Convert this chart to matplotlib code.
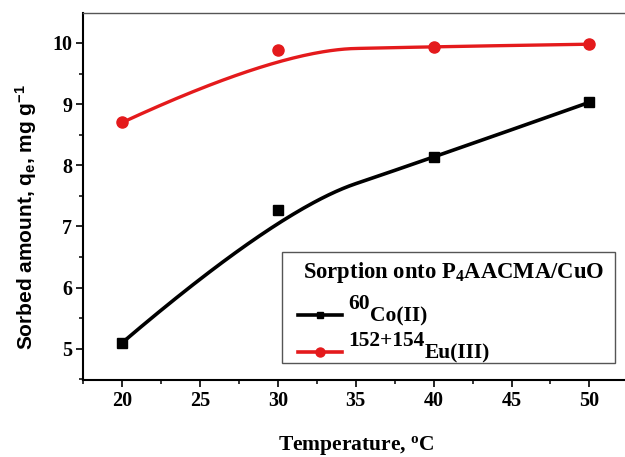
## Sorption vs temperature

import numpy as np
import matplotlib
matplotlib.use('Agg')
import matplotlib.pyplot as plt
from matplotlib.ticker import MultipleLocator
from matplotlib.lines import Line2D
from matplotlib.patches import Rectangle

temperature = [20, 30, 40, 50]
co_qe = [5.10, 7.27, 8.13, 9.03]
eu_qe = [8.70, 9.88, 9.94, 9.98]

legend_title = r'Sorption onto P$_4$AACMA/CuO'
co_iso, co_name = '60', 'Co(II)'
eu_iso, eu_name = '152+154', 'Eu(III)'

RED = '#e41a1c'

plt.rcParams['font.family'] = 'Liberation Serif'
plt.rcParams['font.weight'] = 'bold'
plt.rcParams['mathtext.fontset'] = 'custom'
plt.rcParams['mathtext.rm'] = 'Liberation Serif:bold'
plt.rcParams['mathtext.it'] = 'Liberation Serif:bold'
plt.rcParams['mathtext.bf'] = 'Liberation Serif:bold'
plt.rcParams['mathtext.sf'] = 'Liberation Sans:bold'
plt.rcParams['mathtext.default'] = 'rm'


## quadratic clamped B-spline, data points used as control points
def bspline2(xp, yp, n=100):
    P = np.column_stack([xp, yp]).astype(float)
    m = len(P)
    mids = [(P[i] + P[i + 1]) / 2 for i in range(1, m - 2)]
    starts = [P[0]] + mids
    ends = mids + [P[-1]]
    s = np.linspace(0, 1, n)[:, None]
    segs = [(1 - s) ** 2 * starts[i] + 2 * s * (1 - s) * P[i + 1] + s ** 2 * ends[i]
            for i in range(m - 2)]
    c = np.vstack(segs)
    return c[:, 0], c[:, 1]


W, H = 625, 457
fig = plt.figure(figsize=(W / 100, H / 100), dpi=100)
ax = fig.add_axes([83.3 / W, 77 / H, 545 / W, 367 / H])

cx, cy = bspline2(temperature, co_qe)
ex, ey = bspline2(temperature, eu_qe)
ax.plot(cx, cy, color='black', lw=2.6)
ax.plot(ex, ey, color=RED, lw=2.4)
ax.plot(temperature, co_qe, 's', color='black', ms=6.8)
ax.plot(temperature, eu_qe, 'o', color=RED, ms=8)

ax.set_xlim(17.5, 52.5)
ax.set_ylim(4.49, 10.49)
ax.xaxis.set_minor_locator(MultipleLocator(2.5))
ax.set_xticks([20, 25, 30, 35, 40, 45, 50])
ax.yaxis.set_minor_locator(MultipleLocator(0.5))
ax.set_yticks([5, 6, 7, 8, 9, 10])

ax.tick_params(which='major', direction='out', length=5, width=1.2, labelsize=14.5, pad=3,
               top=False, right=False)
ax.tick_params(which='minor', direction='out', length=3, width=1.1, top=False, right=False)

ax.spines['left'].set_linewidth(1.5)
ax.spines['bottom'].set_linewidth(1.5)
ax.spines['top'].set_linewidth(1.0)
ax.spines['top'].set_color('#555555')
ax.spines['right'].set_visible(False)

ax.set_xlabel(r'Temperature, $^{o}$C', fontsize=15.5, fontweight='bold')
ax.xaxis.set_label_coords(0.5, -0.192)
ax.xaxis.label.set_va('baseline')
ax.set_ylabel(r'Sorbed amount, q$_{\mathsf{e}}$, mg g$^{\mathsf{-1}}$', fontsize=15,
              fontweight='bold', family='Liberation Sans')
ax.yaxis.set_label_coords(-0.081, 0.444)

## legend box drawn by hand (isotope number raised, element name lowered)
def fx(px):
    return px / W


def fy(py):
    return 1 - py / H


fig.patches.append(Rectangle((fx(282), fy(363)), fx(615) - fx(282), fy(252) - fy(363),
                             transform=fig.transFigure, fill=False, ec='#555555', lw=1.0))
fig.text(fx(303), fy(278), legend_title, fontsize=16.3, va='baseline', ha='left')

rows = [(co_iso, co_name, 'black', 's', 5, 315),
        (eu_iso, eu_name, RED, 'o', 6.5, 352)]
renderer = fig.canvas.get_renderer()
for iso, name, col, mk, msz, yh in rows:
    fig.lines.append(Line2D([fx(298), fx(342)], [fy(yh), fy(yh)], transform=fig.transFigure,
                            color=col, lw=2.6))
    fig.lines.append(Line2D([fx(320)], [fy(yh)], transform=fig.transFigure, color=col,
                            marker=mk, ms=msz, ls='none'))
    t = fig.text(fx(348), fy(yh - 6), iso, fontsize=15.5, va='baseline', ha='left')
    bb = t.get_window_extent(renderer)
    fig.text(bb.x1 / W, fy(yh + 6), name, fontsize=15.5, va='baseline', ha='left')

plt.savefig('out.png', dpi=100)
